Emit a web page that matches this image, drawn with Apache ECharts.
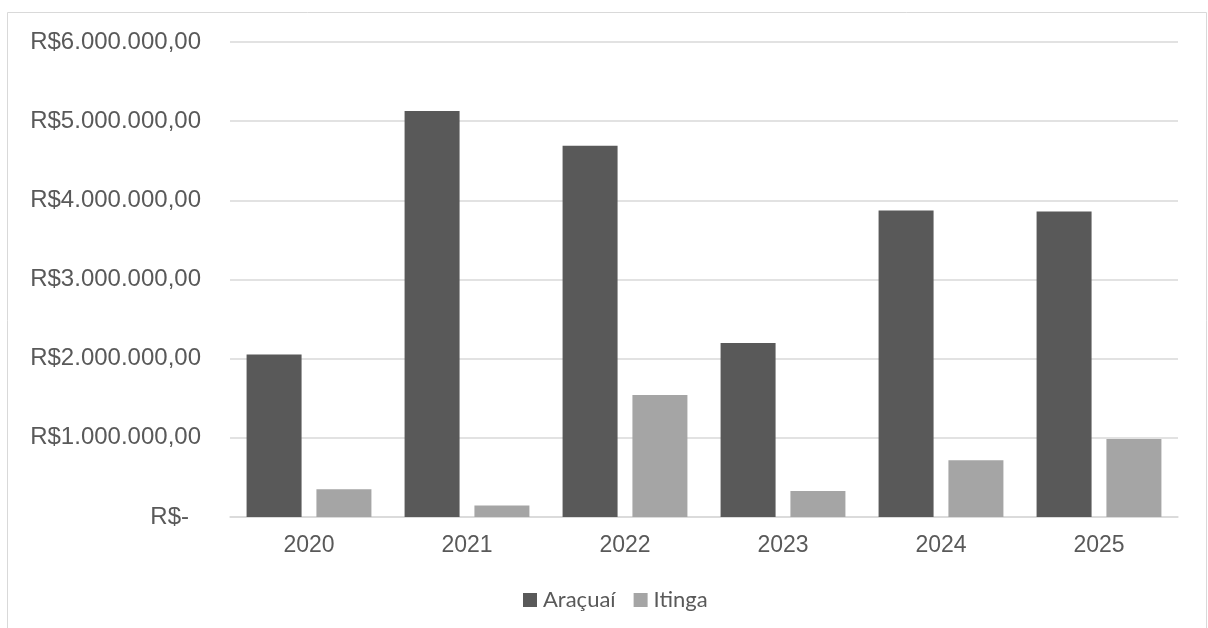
<!DOCTYPE html>
<html>
<head>
<meta charset="utf-8">
<script src="https://cdn.jsdelivr.net/npm/echarts@6/dist/echarts.min.js"></script>
<style>html,body{margin:0;padding:0;background:#fff;}#c{width:1208px;height:628px;}</style>
</head>
<body>
<div id="c"></div>
<script>
const categories = ['2020', '2021', '2022', '2023', '2024', '2025'];
const aracuai = [2054000, 5130000, 4690000, 2197000, 3873000, 3860000];
const itinga = [350000, 144000, 1540000, 330000, 716000, 985000];
const seriesNames = ['Araçuaí', 'Itinga'];

function fmt(v) {
  if (v === 0) return '{z|R$-}';
  const s = String(Math.round(v)).replace(/\B(?=(\d{3})+(?!\d))/g, '.');
  return 'R$' + s + ',00';
}

const chart = echarts.init(document.getElementById('c'));
chart.setOption({
  animation: false,
  backgroundColor: '#ffffff',
  graphic: [{
    type: 'rect',
    shape: { x: 7.5, y: 12.5, width: 1199, height: 640 },
    style: { fill: 'none', stroke: '#d9d9d9', lineWidth: 1 },
    silent: true
  }],
  grid: { left: 230, right: 30, top: 42, bottom: 111, containLabel: false },
  legend: {
    data: seriesNames,
    left: 518,
    top: 584,
    itemWidth: 14,
    itemHeight: 14,
    itemGap: 18,
    icon: 'rect',
    textStyle: { color: '#595959', fontSize: 22, fontFamily: 'Lato', padding: [0, 0, 0, 1] }
  },
  xAxis: {
    type: 'category',
    data: categories,
    axisLine: { lineStyle: { color: '#d9d9d9', width: 1.5 } },
    axisTick: { show: false },
    axisLabel: { color: '#595959', fontSize: 23, fontFamily: 'Liberation Sans', margin: 17 }
  },
  yAxis: {
    type: 'value',
    min: 0,
    max: 6000000,
    interval: 1000000,
    axisLine: { show: false },
    axisTick: { show: false },
    splitLine: { lineStyle: { color: '#d9d9d9', width: 1.5 } },
    axisLabel: {
      color: '#595959', fontSize: 24, fontFamily: 'Liberation Sans', margin: 29,
      formatter: fmt,
      rich: { z: { color: '#595959', fontSize: 24, fontFamily: 'Liberation Sans', padding: [0, 12, 0, 0] } }
    }
  },
  series: [
    { name: seriesNames[0], type: 'bar', data: aracuai, barWidth: 55, barGap: '27%', itemStyle: { color: '#595959' } },
    { name: seriesNames[1], type: 'bar', data: itinga, barWidth: 55, barGap: '27%', itemStyle: { color: '#a5a5a5' } }
  ]
});
</script>
</body>
</html>
